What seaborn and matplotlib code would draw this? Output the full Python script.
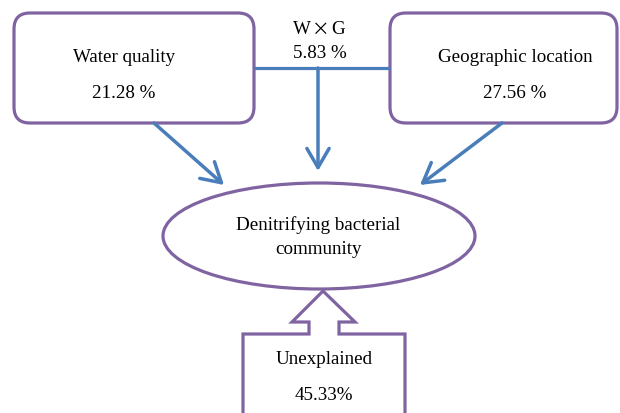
import matplotlib
matplotlib.use("Agg")
import matplotlib.pyplot as plt
import seaborn as sns
from matplotlib.patches import FancyBboxPatch, Ellipse, Polygon, FancyArrowPatch

sns.set_theme(style="white")
plt.rcParams['font.family'] = ['Liberation Serif', 'DejaVu Serif']
plt.rcParams['text.color'] = 'black'

# diagram content
factors = ["Water quality", "Geographic location"]
factor_pct = ["21.28 %", "27.56 %"]
interaction_parts = ["W", "\u00d7", "G"]
interaction_pct = "5.83 %"
target = "Denitrifying bacterial\ncommunity"
unexplained_label = "Unexplained"
unexplained_pct = "45.33%"

purple = "#8064A2"
blue = "#4A7EBB"
fs = 13.7

fig = plt.figure(figsize=(6.2, 4.13), dpi=100)
ax = fig.add_axes([0, 0, 1, 1])
ax.set_xlim(0, 620)
ax.set_ylim(413, 0)
ax.axis("off")

# factor boxes
boxes = [(14, 13, 240, 110), (390, 13, 227, 110)]
text_x = [124, 515]
for (x, y, w, h), name, pct, tx in zip(boxes, factors, factor_pct, text_x):
    ax.add_patch(FancyBboxPatch((x, y), w, h, boxstyle="round,pad=0,rounding_size=16",
                                fc="white", ec=purple, lw=2.3))
    ax.text(tx, y + 44, name, ha="center", va="center", fontsize=fs)
    ax.text(tx, y + 80, pct, ha="center", va="center", fontsize=fs)

# interaction line and label
ax.plot([254, 390], [68, 68], color=blue, lw=2.3, solid_capstyle="butt")
ax.text(302, 30, interaction_parts[0], ha="center", va="center", fontsize=fs)
ax.text(321, 30, interaction_parts[1], ha="center", va="center", fontsize=fs - 1,
        family=['Noto Sans CJK SC'])
ax.text(338, 30, interaction_parts[2], ha="center", va="center", fontsize=fs)
ax.text(320, 53, interaction_pct, ha="center", va="center", fontsize=fs)

# arrows to the ellipse
arrows = [((154, 123), (224, 185)), ((318, 68), (318, 171)), ((502, 123), (420, 185))]
for start, end in arrows:
    ax.add_patch(FancyArrowPatch(start, end, arrowstyle="->,head_length=5.5,head_width=3.2",
                                 color=blue, lw=2.5, mutation_scale=2.5, shrinkA=0, shrinkB=0))

# target ellipse
ax.add_patch(Ellipse((319, 236), 312, 106, fc="white", ec=purple, lw=2.3))
ax.text(318, 237, target, ha="center", va="center", fontsize=fs, linespacing=1.5)

# unexplained block arrow
shape = [(323, 291), (355, 322), (339, 322), (339, 334), (405, 334), (405, 420),
         (243, 420), (243, 334), (309, 334), (309, 322), (292, 322)]
ax.add_patch(Polygon(shape, closed=True, fc="white", ec=purple, lw=2.3, joinstyle="miter"))
ax.text(324, 360, unexplained_label, ha="center", va="center", fontsize=fs)
ax.text(324, 395, unexplained_pct, ha="center", va="center", fontsize=fs)

fig.savefig("out.png", dpi=100, facecolor="white")
